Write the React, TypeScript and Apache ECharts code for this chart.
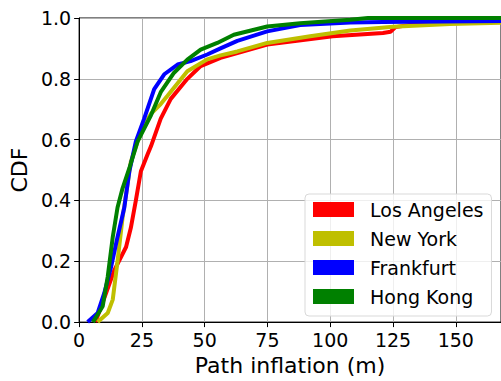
import React, { useEffect, useRef } from "react";
import * as echarts from "echarts";

const seriesNames = ["Los Angeles", "New York", "Frankfurt", "Hong Kong"];
const seriesColors = ["#ff0000", "#bfbf00", "#0000ff", "#008000"];

const laX = [6.5, 10.7, 14, 18.7, 20.6, 22.6, 24.6, 27.2, 28.6, 32.5, 36.5, 43.1, 48.4, 56.3, 63, 74.9, 101, 121, 124, 126, 134, 168];
const laY = [0, 0.095, 0.17, 0.247, 0.31, 0.4, 0.496, 0.55, 0.578, 0.669, 0.734, 0.8, 0.842, 0.869, 0.885, 0.913, 0.94, 0.951, 0.955, 0.97, 0.98, 0.99];

const nyX = [7.4, 11.4, 13.4, 15.3, 17.3, 18.7, 20.6, 23.3, 26, 28.6, 32.5, 35.2, 43.1, 51, 56.3, 63, 74.9, 92, 108, 125, 147.6, 168];
const nyY = [0, 0.03, 0.074, 0.2, 0.344, 0.42, 0.528, 0.594, 0.65, 0.685, 0.717, 0.744, 0.825, 0.864, 0.877, 0.89, 0.918, 0.94, 0.959, 0.971, 0.98, 0.984];

const frX = [3.4, 7.4, 10, 12.7, 15.3, 18, 20, 22.6, 25.9, 29.9, 33.9, 39.2, 44.4, 51, 56.3, 63, 74.9, 88, 108, 121, 168];
const frY = [0, 0.03, 0.095, 0.18, 0.28, 0.377, 0.496, 0.594, 0.669, 0.766, 0.815, 0.847, 0.858, 0.88, 0.9, 0.925, 0.956, 0.977, 0.985, 0.987, 0.99];

const hkX = [5.5, 9.4, 11.4, 13.4, 15.3, 17.3, 20, 23.3, 28.6, 32.5, 37.8, 43.1, 48.4, 55, 61.6, 74.9, 88, 108, 115, 168];
const hkY = [0, 0.052, 0.15, 0.28, 0.377, 0.44, 0.506, 0.594, 0.68, 0.756, 0.82, 0.863, 0.896, 0.918, 0.945, 0.972, 0.983, 0.994, 1.0, 1.0];

const xs = [laX, nyX, frX, hkX];
const ys = [laY, nyY, frY, hkY];

const FONT = "DejaVu Sans";

export default function App() {
  const ref = useRef<HTMLDivElement>(null);
  useEffect(() => {
    if (!ref.current) return;
    const chart = echarts.init(ref.current, null, { renderer: "svg" });
    chart.setOption({
      animation: false,
      backgroundColor: "#ffffff",
      textStyle: { fontFamily: FONT },
      grid: {
        left: 78,
        right: 0,
        top: 18,
        bottom: 55,
        show: true,
        borderColor: "#000",
        borderWidth: 1,
      },
      legend: {
        orient: "vertical",
        left: 305,
        top: 194,
        padding: [6, 8, 10, 8],
        itemWidth: 41,
        itemHeight: 15,
        itemGap: 10,
        icon: "rect",
        borderColor: "#d9d9d9",
        borderWidth: 1,
        borderRadius: 4,
        backgroundColor: "rgba(255,255,255,0.8)",
        textStyle: { fontSize: 19, lineHeight: 19, color: "#000", fontFamily: FONT, padding: [0, 0, 0, 11] },
        data: seriesNames,
      },
      xAxis: {
        type: "value",
        min: 0,
        max: 168,
        interval: 25,
        name: "Path inflation (m)",
        nameLocation: "middle",
        nameGap: 31,
        nameTextStyle: { fontSize: 22, color: "#000", fontFamily: FONT },
        axisLine: { show: true, lineStyle: { color: "#000", width: 1 } },
        axisTick: { show: true, length: 5, lineStyle: { color: "#000" } },
        axisLabel: { fontSize: 19, color: "#000", margin: 8, showMaxLabel: false, fontFamily: FONT },
        splitLine: { show: true, lineStyle: { color: "#b0b0b0", width: 1 } },
      },
      yAxis: {
        type: "value",
        min: 0,
        max: 1,
        interval: 0.2,
        name: "CDF",
        nameLocation: "middle",
        nameRotate: 90,
        nameGap: 48,
        nameTextStyle: { fontSize: 22, color: "#000", fontFamily: FONT },
        axisLine: { show: true, lineStyle: { color: "#000", width: 1 } },
        axisTick: { show: true, length: 5, lineStyle: { color: "#000" } },
        axisLabel: {
          fontSize: 19,
          color: "#000",
          margin: 8,
          fontFamily: FONT,
          formatter: (v: number) => v.toFixed(1),
        },
        splitLine: { show: true, lineStyle: { color: "#b0b0b0", width: 1 } },
      },
      series: seriesNames.map((name, i) => ({
        name,
        type: "line",
        data: xs[i].map((x, j) => [x, ys[i][j]]),
        showSymbol: false,
        symbol: "none",
        color: seriesColors[i],
        lineStyle: { color: seriesColors[i], width: 4 },
        clip: true,
      })),
    });
    return () => chart.dispose();
  }, []);
  return (
    <div
      ref={ref}
      style={{ position: "fixed", left: 0, top: 0, width: 501, height: 381 }}
    />
  );
}
